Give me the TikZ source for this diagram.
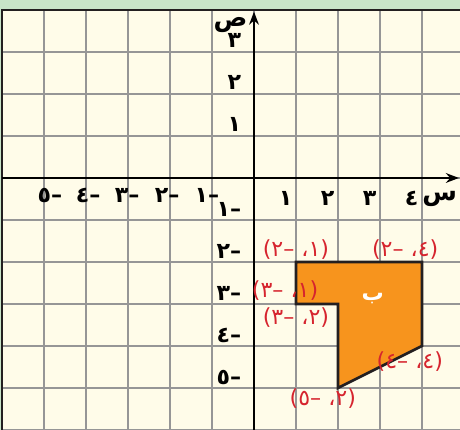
\documentclass[tikz,border=0pt]{standalone}
\usepackage{fontspec}
\newfontfamily\arabicfont[Script=Arabic]{DejaVu Sans}
\TeXXeTstate=1
\usetikzlibrary{arrows.meta}
\definecolor{bandgreen}{RGB}{200,228,200}
\definecolor{papercream}{RGB}{255,252,233}
\definecolor{gridgray}{RGB}{150,150,150}
\definecolor{shapeorange}{RGB}{247,148,29}
\definecolor{labelred}{RGB}{214,36,46}
\definecolor{edgedark}{RGB}{35,31,32}

\begin{document}
\begin{tikzpicture}[>=Stealth, x=1cm, y=1cm,
        axislabel/.style={font=\arabicfont\bfseries\fontsize{15}{17}\selectfont, inner sep=0pt},
        axisname/.style={font=\arabicfont\bfseries\fontsize{17}{19}\selectfont, inner sep=0pt},
        pointlabel/.style={font=\arabicfont\fontsize{15}{17}\selectfont, text=labelred, inner sep=0pt}]
    % --- page: 460 x 430 px of the reference, 42 px to one unit ---
    \useasboundingbox (-6.048,-6.0) rectangle (4.905,4.238);
    \fill[bandgreen] (-6.048,-6.0) rectangle (4.905,4.238);
    \fill[papercream] (-6,-6) rectangle (4.905,4);
    % --- grid paper and its frame ---
    \draw[gridgray, line width=1pt] (-6,-6) grid (4.905,4);
    \draw[edgedark, line width=1.5pt] (-6,-6.1) -- (-6,4) -- (4.95,4);
    % --- axes ---
    \draw[->, line width=1.3pt] (-6,0) -- (4.88,0);
    \draw[->, line width=1.3pt] (0,-6.1) -- (0,3.96);
    \node[axisname] (lblx) at (4.42,-0.5) {س};
    \node[axisname] (lbly) at (-0.56,3.64) {ص};
    % --- tick labels, Arabic-Indic digits (minus sign typed first) ---
    \foreach \n/\d in {1/١,2/٢,3/٣,4/٤}
        \node[axislabel, anchor=east] (xp\n) at (\n-0.08,-0.48) {\d};
    \foreach \n/\d/\c in {1/١/-1.12,2/٢/-2.07,3/٣/-3.02,4/٤/-3.95,5/٥/-4.86}
        \node[axislabel] (xn\n) at (\c,-0.42) {\beginR–\d\endR};
    \foreach \n/\d in {1/١,2/٢,3/٣}
        \node[axislabel, anchor=east] (yp\n) at (-0.3,\n+0.28) {\d};
    \foreach \n/\d in {1/١,2/٢,3/٣,4/٤,5/٥}
        \node[axislabel, anchor=east] (yn\n) at (-0.3,-\n+0.26) {\beginR–\d\endR};
    % --- figure b ---
    \coordinate (pA) at (1,-2);
    \coordinate (pB) at (4,-2);
    \coordinate (pC) at (4,-4);
    \coordinate (pD) at (2,-5);
    \coordinate (pE) at (2,-3);
    \coordinate (pF) at (1,-3);
    \filldraw[fill=shapeorange, draw=edgedark, line width=1.8pt, line join=miter]
        (pA) -- (pB) -- (pC) -- (pD) -- (pE) -- (pF) -- cycle;
    \node[axislabel, text=white] (nameb) at (2.83,-2.86) {ب};
    % --- vertex labels ---
    \node[pointlabel] (tA) at (1.0,-1.71) {\beginR(١، –٢)\endR};
    \node[pointlabel] (tB) at (3.6,-1.71) {\beginR(٤، –٢)\endR};
    \node[pointlabel] (tF) at (0.74,-2.67) {\beginR(١، –٣)\endR};
    \node[pointlabel] (tE) at (1.0,-3.33) {\beginR(٢، –٣)\endR};
    \node[pointlabel] (tC) at (3.71,-4.38) {\beginR(٤، –٤)\endR};
    \node[pointlabel] (tD) at (1.64,-5.26) {\beginR(٢، –٥)\endR};
\end{tikzpicture}
\end{document}
